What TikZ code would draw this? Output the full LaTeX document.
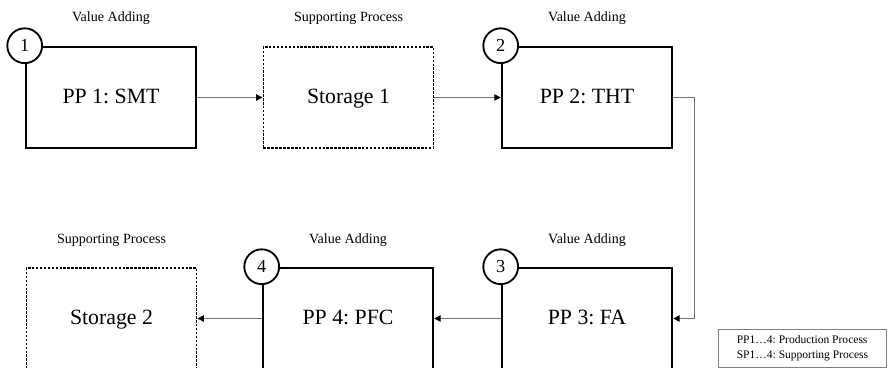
\documentclass[tikz,border=0pt]{standalone}
\usepackage{fontspec}
\setmainfont{Liberation Serif}
\usetikzlibrary{positioning,arrows.meta,calc}
\frenchspacing

\begin{document}
\begin{tikzpicture}[x=0.025cm, y=-0.025cm,
    every node/.style={align=center},
    ppbox/.style={draw, line width=1.8pt, minimum width=4.25cm, minimum height=2.525cm,
      text height=0.9em, text depth=0pt, font=\fontsize{15.5}{18}\selectfont},
    spbox/.style={ppbox, densely dotted, line width=1.3pt},
    numcirc/.style={circle, draw, line width=1.3pt, fill=white, minimum size=0.87cm, inner sep=0pt,
      text height=, text depth=, font=\fontsize{13}{15}\selectfont},
    kind/.style={font=\fontsize{10}{12}\selectfont},
    flow/.style={draw=black!55, line width=0.6pt, -{Triangle[length=4.5pt,width=4.5pt,black]}}]
  \useasboundingbox (0,0) rectangle (888,368);
  \clip (0,0) rectangle (888,368);

  % top row
  \node[ppbox] (pp1) at (111,97.5) {PP 1: SMT};
  \node[spbox] (st1) at (348.5,97.5) {Storage 1};
  \node[ppbox] (pp2) at (587,97.5) {PP 2: THT};
  \node[kind] (k1) at (111,18) {Value Adding};
  \node[kind] (k2) at (348.5,18) {Supporting Process};
  \node[kind] (k3) at (587,18) {Value Adding};

  % bottom row
  \node[ppbox] (pp3) at (587,318.5) {PP 3: FA};
  \node[ppbox] (pp4) at (348,318.5) {PP 4: PFC};
  \node[spbox] (st2) at (111.5,318.5) {Storage 2};
  \node[kind] (k4) at (587,240) {Value Adding};
  \node[kind] (k5) at (348,240) {Value Adding};
  \node[kind] (k6) at (111.5,240) {Supporting Process};

  \node[numcirc] (n1) at (pp1.north west) {1};
  \node[numcirc] (n2) at (pp2.north west) {2};
  \node[numcirc] (n3) at (pp3.north west) {3};
  \node[numcirc] (n4) at (pp4.north west) {4};

  \draw[flow] (pp1) -- (st1);
  \draw[flow] (st1) -- (pp2);
  \draw[flow] (pp2.east) -- ++(21,0) |- (pp3.east);
  \draw[flow] (pp3) -- (pp4);
  \draw[flow] (pp4) -- (st2);

  \node[draw=black!50, line width=0.6pt, align=left, anchor=north west, minimum width=4.2cm,
        minimum height=0.95cm, inner xsep=4pt, font=\fontsize{8.2}{11}\selectfont] (legend) at (718,329)
    {PP1\ldots4: Production Process\\SP1\ldots4: Supporting Process};
\end{tikzpicture}
\end{document}
